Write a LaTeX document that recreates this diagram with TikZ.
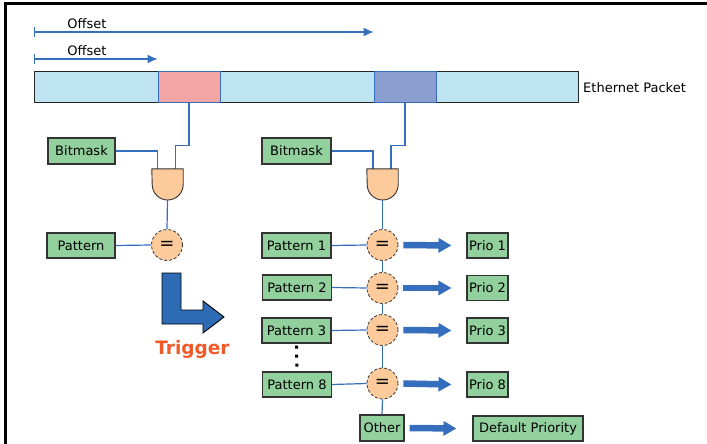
\documentclass[tikz,border=0pt]{standalone}
\usepackage{fontspec}
\setmainfont{DejaVu Sans}
\usetikzlibrary{arrows.meta}

\definecolor{boxgreen}{RGB}{146,208,158}
\definecolor{pktblue}{RGB}{190,228,242}
\definecolor{maskred}{RGB}{244,166,166}
\definecolor{maskviolet}{RGB}{140,158,208}
\definecolor{wireblue}{RGB}{54,110,190}
\definecolor{gatepeach}{RGB}{253,203,155}
\definecolor{trigblue}{RGB}{46,107,181}
\definecolor{trigorange}{RGB}{240,90,40}

\begin{document}
\begin{tikzpicture}[x=1pt,y=-1pt,
	box/.style={draw=black!80, fill=boxgreen, line width=1.1pt, inner sep=0pt, minimum height=25pt, font=\fontsize{13}{15}\selectfont},
	pkt/.style={draw=black!85, fill=pktblue, line width=1pt, minimum height=30pt, inner sep=0pt},
	mask/.style={draw=wireblue, line width=1pt, minimum height=30pt, inner sep=0pt},
	wire/.style={draw=wireblue, line width=1.2pt},
	eqnode/.style={circle, draw=black!80, fill=gatepeach, densely dashed, line width=0.8pt, minimum size=31pt, inner sep=0pt, font=\fontsize{18}{18}\selectfont},
	gatebox/.style={minimum width=31pt, minimum height=31pt, inner sep=0pt},
	gateline/.style={draw=black!80, fill=gatepeach, line width=0.9pt},
	fatarrow/.style={draw=wireblue, line width=6.5pt, -{Triangle[length=13pt,width=14pt]}},
	offsetline/.style={draw=wireblue, line width=1.1pt, {Bar[width=10pt]}-{Latex[length=10pt,width=9pt]}},
	lbl/.style={inner sep=0pt, font=\fontsize{13}{15}\selectfont}]

	\useasboundingbox (0,0) rectangle (707,444);
	% frame
	\draw[line width=3pt] (5.5,444) -- (5.5,4) -- (707,4);

	% ethernet packet
	\node[pkt, minimum width=124pt] (seg1) at (96,87) {};
	\node[pkt, minimum width=154pt] (seg2) at (297,87) {};
	\node[pkt, minimum width=142pt] (seg3) at (507,87) {};
	\node[mask, fill=maskred, minimum width=62pt] (mask1) at (189,87) {};
	\node[mask, fill=maskviolet, minimum width=62pt] (mask2) at (405,87) {};
	\node[lbl, anchor=west] (ethlbl) at (583,88) {Ethernet Packet};

	% offsets
	\draw[offsetline] (seg1.north west |- 0,32) -- (mask2.north west |- 0,32);
	\node[lbl] (off1) at (87,24) {Offset};
	\draw[offsetline] (seg1.north west |- 0,59) -- (mask1.north west |- 0,59);
	\node[lbl] (off2) at (87,51) {Offset};

	% single trigger
	\node[box, minimum width=67pt, minimum height=26pt] (bitmask1) at (81.5,151) {Bitmask};
	\node[gatebox] (and1) at (167.5,184.5) {};
	\node[box, minimum width=68pt] (pattern) at (81,245.5) {Pattern};
	\node[eqnode] (eq0) at (167,245) {=};
	\draw[wire] (bitmask1.east) -| ([xshift=-10pt]and1.north);
	\draw[wire] (mask1.south) -- ++(0,43) -| ([xshift=8pt]and1.north);
	\draw[gateline] (and1.north west) -- (and1.north east) -- (and1.east) arc[start angle=0, end angle=-180, radius=15.5pt] -- cycle;
	\draw[wire] (and1.south) -- (eq0.north);
	\draw[wire] (pattern.east) -- (eq0.west);

	\draw[draw=black, fill=trigblue, line width=0.9pt] (162,273) -- (181,273) -- (181,310) -- (203,310) -- (203,301) -- (224,317) -- (203,333) -- (203,324) -- (162,324) -- cycle;
	\node[inner sep=0pt, text=trigorange, font=\fontsize{18.5}{19}\selectfont\bfseries] (trigger) at (192.5,349) {Trigger};

	% priority chain
	\node[box, minimum width=69pt, minimum height=26pt] (bitmask2) at (296.5,151) {Bitmask};
	\node[gatebox] (and2) at (382.5,184.5) {};
	\draw[wire] (bitmask2.east) -| ([xshift=-9.5pt]and2.north);
	\draw[wire] (mask2.south) -- ++(0,43) -| ([xshift=8.5pt]and2.north);
	\draw[gateline] (and2.north west) -- (and2.north east) -- (and2.east) arc[start angle=0, end angle=-180, radius=15.5pt] -- cycle;

	\node[box, minimum width=69pt] (pat1) at (296.5,245.5) {Pattern 1};
	\node[box, minimum width=69pt] (pat2) at (297,287.5) {Pattern 2};
	\node[box, minimum width=69pt] (pat3) at (296.5,330.5) {Pattern 3};
	\node[box, minimum width=69pt] (pat8) at (297,384.5) {Pattern 8};
	\node[eqnode] (eq1) at (382.5,245) {=};
	\node[eqnode] (eq2) at (382.5,288) {=};
	\node[eqnode] (eq3) at (382.5,330) {=};
	\node[eqnode] (eq8) at (382.5,383.5) {=};
	\node[box, minimum width=41pt] (prio1) at (487.5,245.5) {Prio 1};
	\node[box, minimum width=41pt] (prio2) at (487.5,288) {Prio 2};
	\node[box, minimum width=41pt] (prio3) at (487.5,330.5) {Prio 3};
	\node[box, minimum width=41pt] (prio8) at (487.5,384.5) {Prio 8};
	\node[box, minimum width=44pt, minimum height=26pt] (other) at (382,428) {Other};
	\node[box, minimum width=110pt] (default) at (528,428.5) {Default Priority};

	\draw[wire] (and2.south) -- (eq1.north);
	\draw[wire] (eq1.south) -- (eq2.north);
	\draw[wire] (eq2.south) -- (eq3.north);
	\draw[wire] (eq3.south) -- (eq8.north);
	\draw[wire] (eq8.south) -- (other.north);
	\foreach \i in {1,2,3,8} {
		\draw[wire] (pat\i.east) -- (eq\i.west);
		\draw[fatarrow] ([xshift=5pt]eq\i.east) -- ([xshift=-15pt]prio\i.west);
	}
	\draw[fatarrow] ([xshift=5pt]other.east) -- ([xshift=-16pt]default.west);
	\draw[line width=3pt, dash pattern=on 3pt off 6pt] ([yshift=-2pt]pat3.south) -- (pat8.north);

\end{tikzpicture}
\end{document}
